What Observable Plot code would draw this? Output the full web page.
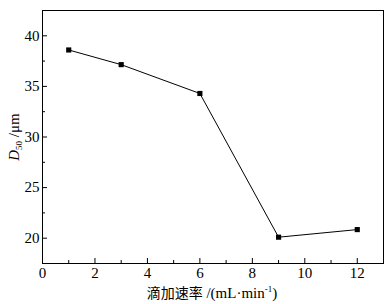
<!DOCTYPE html>
<html><head><meta charset="utf-8">
<script src="https://cdn.jsdelivr.net/npm/d3@7"></script>
<script src="https://cdn.jsdelivr.net/npm/@observablehq/plot@0.6"></script>
<style>body{margin:0;background:#fff}</style>
</head><body><div id="chart"></div>
<script>
const rates = [1, 3, 6, 9, 12];
const d50 = [38.6, 37.15, 34.3, 20.1, 20.85];
const xTicks = [0, 2, 4, 6, 8, 10, 12];
const xMinor = [1, 3, 5, 7, 9, 11];
const yTicks = [20, 25, 30, 35, 40];
const yMinor = [22.5, 27.5, 32.5, 37.5];
const xLabelCn = "滴加速率";
const xLabelUnit = " /(mL·min";

const data = rates.map((r, i) => ({x: r, y: d50[i]}));
const W = 388, H = 304;
const mL = 42, mR = 5, mT = 10, mB = 41;
const fw = W - mL - mR, fh = H - mT - mB;
const serif = "'Liberation Serif','Times New Roman',serif";

const plot = Plot.plot({
  width: W, height: H,
  marginLeft: mL, marginRight: mR, marginTop: mT, marginBottom: mB,
  style: {fontFamily: serif, fontSize: "15px", background: "#fff", color: "#000"},
  x: {domain: [0, 13], label: null},
  y: {domain: [17.5, 42.5], label: null},
  marks: [
    Plot.frame({stroke: "#000", strokeWidth: 1}),
    Plot.axisX({ticks: xTicks, tickSize: 0, tickPadding: 4, fontSize: 15, label: null}),
    Plot.axisY({ticks: yTicks, tickSize: 0, tickPadding: 3, fontSize: 15, label: null}),
    Plot.tickX(xTicks, {x: d => d, insetTop: fh - 5, stroke: "#000"}),
    Plot.tickX(xMinor, {x: d => d, insetTop: fh - 3, stroke: "#000"}),
    Plot.tickY(yTicks, {y: d => d, insetRight: fw - 5, stroke: "#000"}),
    Plot.tickY(yMinor, {y: d => d, insetRight: fw - 3, stroke: "#000"}),
    Plot.line(data, {x: "x", y: "y", stroke: "#000", strokeWidth: 1}),
    Plot.dot(data, {x: "x", y: "y", symbol: "square", r: 2.9, fill: "#000", stroke: "none"})
  ]
});
document.getElementById("chart").appendChild(plot);

const svg = d3.select(plot);
const xl = svg.append("text")
  .attr("x", 212).attr("y", 298)
  .attr("text-anchor", "middle")
  .attr("font-family", serif)
  .attr("font-size", 15)
  .attr("fill", "#000");
xl.append("tspan").attr("font-family", "'Noto Sans CJK SC',sans-serif").attr("font-size", 14).text(xLabelCn);
xl.append("tspan").text(xLabelUnit);
xl.append("tspan").attr("font-size", 9).attr("dy", -6).text("-1");
xl.append("tspan").attr("dy", 6).text(")");

const yl = svg.append("text")
  .attr("transform", "translate(19,137) rotate(-90)")
  .attr("text-anchor", "middle")
  .attr("font-family", serif)
  .attr("font-size", 15)
  .attr("fill", "#000");
yl.append("tspan").attr("font-style", "italic").text("D");
yl.append("tspan").attr("font-size", 9).attr("dy", 3).text("50");
yl.append("tspan").attr("dy", -3).text(" /μm");
</script>
</body></html>
